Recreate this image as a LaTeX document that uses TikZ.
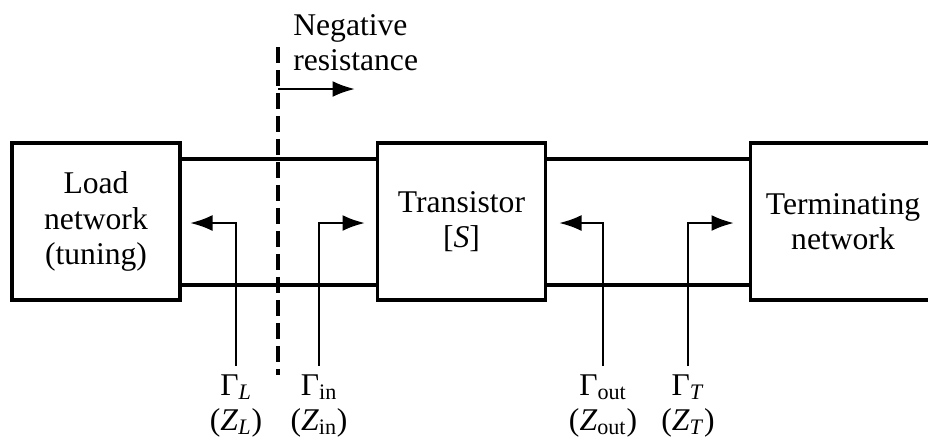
\documentclass[tikz,border=0pt]{standalone}
\usepackage{fontspec}
\setmainfont{Liberation Serif}
\usetikzlibrary{arrows.meta}
\tikzset{
  blk/.style={draw, line width=2pt, minimum width=3.36cm, minimum height=3.14cm, align=center, inner sep=0pt},
  tline/.style={line width=1.9pt},
  refl/.style={line width=1.5pt, ->},
  lab/.style={align=center, inner sep=0.16cm, anchor=north},
}
\begin{document}
\begin{tikzpicture}[x=0.02cm, y=-0.02cm, >={Latex[length=0.45cm,width=0.32cm]}, font=\fontsize{18pt}{20pt}\selectfont]
\useasboundingbox (0,0) rectangle (928,441);
% blocks
\node[blk] (load) at (96,221.5) {Load\\network\\(tuning)};
\node[blk] (trans) at (461.5,221.5) {Transistor\\{[}\textit{S}]};
\node[blk, minimum width=3.7cm] (term) at (843,221.5) {Terminating\\network};
% two-wire lines
\coordinate (top) at (0,159);
\coordinate (bot) at (0,285);
\draw[tline] (load.east |- top) -- (trans.west |- top);
\draw[tline] (load.east |- bot) -- (trans.west |- bot);
\draw[tline] (trans.east |- top) -- (term.west |- top);
\draw[tline] (trans.east |- bot) -- (term.west |- bot);
% negative resistance plane
\coordinate (dtop) at (278,47);
\coordinate (dbot) at (278,375);
\draw[line width=2.2pt, dash pattern=on 0.32cm off 0.14cm] (dtop) -- (dbot);
\node[align=left, inner sep=0pt, anchor=north west] (neg) at (293,14) {Negative\\resistance};
\coordinate (nA) at (278,89);
\coordinate (nB) at (355,89);
\draw[refl] (nA) -- (nB);
% reflection coefficients
\node[lab] (gL) at (236,366) {Γ\textsubscript{\textit{L}}\\(\textit{Z}\textsubscript{\textit{L}})};
\node[lab] (gin) at (319,366) {Γ\textsubscript{in}\\(\textit{Z}\textsubscript{in})};
\node[lab] (gout) at (603,366) {Γ\textsubscript{out}\\(\textit{Z}\textsubscript{out})};
\node[lab] (gT) at (688,366) {Γ\textsubscript{\textit{T}}\\(\textit{Z}\textsubscript{\textit{T}})};
\coordinate (aL) at (190,223);
\coordinate (ain) at (365,223);
\coordinate (aout) at (559,223);
\coordinate (aT) at (734,223);
\draw[refl] (gL.north) |- (aL);
\draw[refl] (gin.north) |- (ain);
\draw[refl] (gout.north) |- (aout);
\draw[refl] (gT.north) |- (aT);
\end{tikzpicture}
\end{document}
